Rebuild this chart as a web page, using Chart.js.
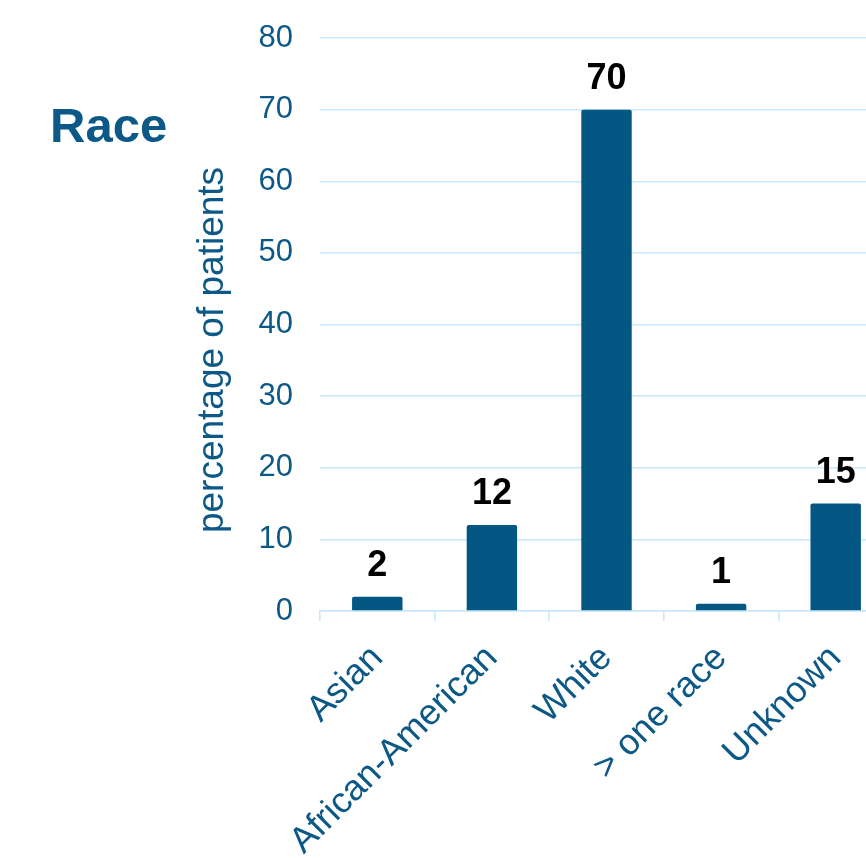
<!DOCTYPE html>
<html>
<head>
<meta charset="utf-8">
<script src="https://cdn.jsdelivr.net/npm/chart.js@4"></script>
<style>
  html, body { margin: 0; padding: 0; background: #fff; overflow: hidden; }
  #wrap { position: relative; width: 900px; height: 858px; }
</style>
</head>
<body>
<div id="wrap"><canvas id="raceChart"></canvas></div>
<script>
const categories = ['Asian', 'African-American', 'White', '> one race', 'Unknown'];
const percentages = [2, 12, 70, 1, 15];
const yTicks = [0, 10, 20, 30, 40, 50, 60, 70, 80];
const chartTitle = 'Race';
const yAxisTitle = 'percentage of patients';

const BLUE = '#035782';
const TEXT_BLUE = '#0c5886';
const GRID = '#c8e7f9';
const FONT = '"Liberation Sans", Arial, sans-serif';

// value labels above bars + side texts
const labelsPlugin = {
  id: 'labelsPlugin',
  afterDatasetsDraw(chart) {
    const ctx = chart.ctx;
    const meta = chart.getDatasetMeta(0);
    ctx.save();
    ctx.fillStyle = '#000';
    ctx.font = `bold 36px ${FONT}`;
    ctx.textAlign = 'center';
    ctx.textBaseline = 'alphabetic';
    meta.data.forEach((bar, i) => {
      ctx.fillText(String(percentages[i]), bar.x, bar.y - 21);
    });
    ctx.restore();
  },
  afterDraw(chart) {
    const ctx = chart.ctx;
    ctx.save();
    ctx.fillStyle = TEXT_BLUE;
    ctx.font = `bold 49px ${FONT}`;
    ctx.textAlign = 'left';
    ctx.textBaseline = 'alphabetic';
    ctx.fillText(chartTitle, 50, 142);

    ctx.translate(213, 350);
    ctx.rotate(-Math.PI / 2);
    ctx.font = `37px ${FONT}`;
    ctx.textAlign = 'center';
    ctx.textBaseline = 'middle';
    ctx.fillText(yAxisTitle, 0, 0);
    ctx.restore();
  }
};

new Chart(document.getElementById('raceChart'), {
  type: 'bar',
  data: {
    labels: categories,
    datasets: [{
      data: percentages,
      backgroundColor: BLUE,
      borderRadius: 2,
      borderSkipped: 'bottom',
      categoryPercentage: 1,
      barPercentage: 0.44
    }]
  },
  options: {
    responsive: true, maintainAspectRatio: false,
    animation: false,
    layout: { padding: { left: 190, top: 38, right: 7, bottom: 0 } },
    plugins: { legend: { display: false }, tooltip: { enabled: false } },
    scales: {
      y: {
        min: 0, max: 80,
        afterFit: s => { s.width = 130; s.paddingTop = 0; s.paddingBottom = 0; },
        afterBuildTicks: s => { s.ticks = yTicks.map(v => ({ value: v })); },
        border: { display: false },
        grid: { color: GRID, lineWidth: 1.5, drawTicks: false },
        ticks: { color: TEXT_BLUE, padding: 27, font: { family: FONT, size: 31 } }
      },
      x: {
        afterFit: s => { s.height = 247; s.paddingTop = 0; s.paddingBottom = 0; },
        border: { color: GRID, width: 1.5 },
        grid: { color: GRID, lineWidth: 1.5, drawOnChartArea: false, tickLength: 10, offset: true },
        ticks: {
          color: TEXT_BLUE, minRotation: 45, maxRotation: 45, padding: 16,
          font: { family: FONT, size: 36 }
        }
      }
    }
  },
  plugins: [labelsPlugin]
});
</script>
</body>
</html>
